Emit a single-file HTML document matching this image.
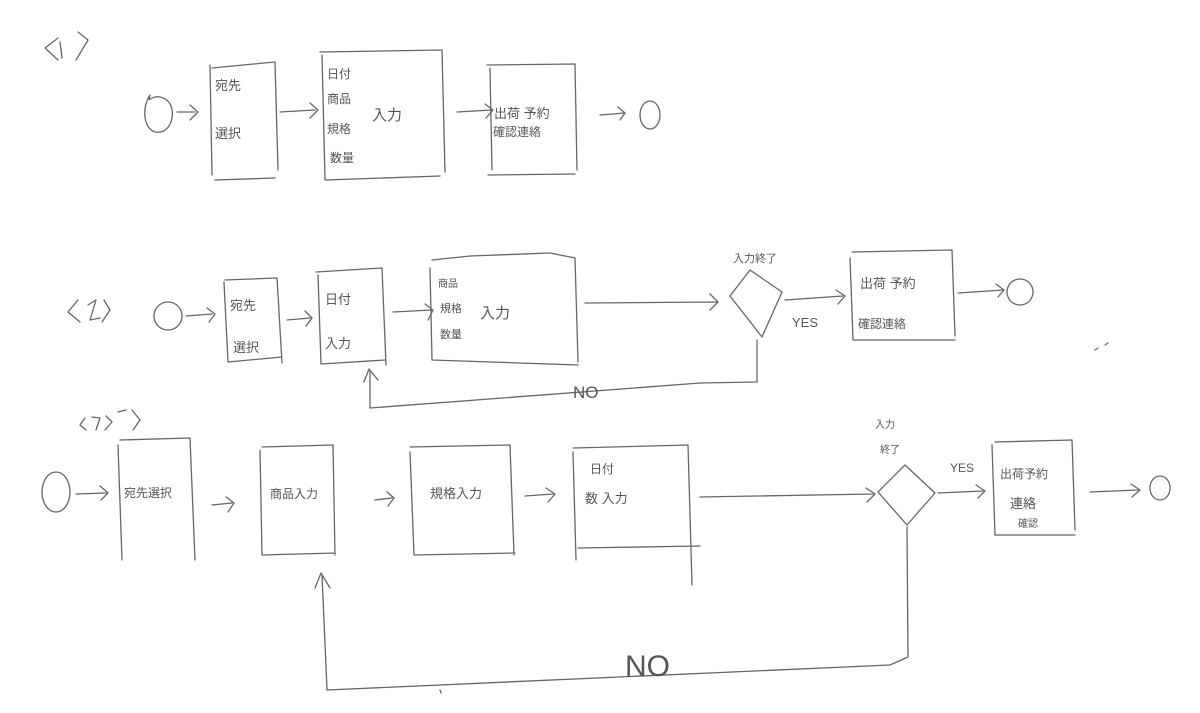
<!DOCTYPE html>
<html><head><meta charset="utf-8"><style>
html,body{margin:0;padding:0;background:#fff;}
svg{display:block}
text{font-family:"Liberation Sans","Noto Sans CJK JP",sans-serif;fill:#555;}
</style></head><body>
<svg width="1200" height="713" viewBox="0 0 1200 713" xmlns="http://www.w3.org/2000/svg">
<g fill="none" stroke="#666" stroke-width="1.3" stroke-linecap="round" stroke-linejoin="round">
<!-- Row 1 -->
<path d="M58,38 L45,48 L58,60 M60,42 L62,58 M78,32 L88,40 L76,60"/>
<path d="M150,95 C140,110 145,135 160,132 C175,130 178,100 160,97 C150,95 148,105 150,95"/>
<path d="M177,112 L195,112 M190,105 L198,112 L190,120"/>
<path d="M212,68 L275,62 L278,170 M210,65 L212,175 M215,180 L275,178"/>
<path d="M280,112 L315,110 M310,103 L318,110 L310,118"/>
<path d="M320,52 L442,50 L445,172 M322,55 L325,180 L440,176"/>
<path d="M457,112 L492,110 M485,104 L493,110 L486,118"/>
<path d="M487,65 L575,64 L577,170 M490,68 L492,170 M488,175 L575,174"/>
<path d="M600,115 L625,113 M618,107 L625,113 L620,120"/>
<ellipse cx="650" cy="115" rx="10" ry="14"/>
<!-- Row 2 -->
<path d="M78,300 L68,312 L80,322 M88,305 L96,300 L90,320 L100,318 M104,300 L110,310 L102,322"/>
<circle cx="168" cy="316" r="14"/>
<path d="M186,316 L212,314 M207,308 L215,314 L209,322"/>
<path d="M225,280 L277,278 L282,363 M224,282 L228,362 L282,357"/>
<path d="M287,320 L310,318 M305,311 L312,318 L306,326"/>
<path d="M316,272 L382,268 L386,365 M318,275 L321,364 L385,360"/>
<path d="M393,312 L432,310 M425,304 L433,310 L428,320"/>
<path d="M432,260 L470,256 L550,253 L575,258 L578,362 M430,268 L432,360 L578,365"/>
<path d="M585,303 L717,302 M710,294 L718,302 L710,310"/>
<path d="M730,296 L750,270 L782,292 L762,337 Z"/>
<path d="M785,300 L843,296 M836,290 L845,296 L838,304"/>
<path d="M852,252 L952,250 L955,336 M850,258 L853,340 L955,340"/>
<path d="M958,293 L1003,290 M996,284 L1004,290 L998,297"/>
<circle cx="1020" cy="292" r="13"/>
<path d="M757,340 L757,382 L700,383 L370,408 L370,370 M364,382 L369,369 L378,380"/>
<path d="M1095,350 L1098,348 M1105,345 L1108,343"/>
<!-- Row 3 -->
<path d="M85,418 L80,425 L86,430 M92,417 L100,418 L96,430 M106,416 L112,422 L105,430 M118,412 L126,410 M132,410 L140,420 L133,430"/>
<ellipse cx="56" cy="492" rx="14" ry="20"/>
<path d="M76,494 L106,493 M100,486 L108,493 L101,500"/>
<path d="M120,440 L190,438 L195,560 M118,445 L122,560"/>
<path d="M212,505 L232,503 M226,497 L234,503 L228,512"/>
<path d="M262,447 L333,445 L335,555 M260,450 L262,555 L335,553"/>
<path d="M375,500 L392,498 M387,492 L394,498 L388,506"/>
<path d="M410,447 L510,445 L514,555 M410,452 L414,555 L515,553"/>
<path d="M525,496 L553,494 M546,488 L555,494 L548,502"/>
<path d="M573,448 L688,445 L692,585 M573,452 L576,560 M578,548 L700,546"/>
<path d="M700,497 L873,494 M866,488 L875,494 L867,502"/>
<path d="M878,492 L905,465 L935,493 L907,525 Z"/>
<path d="M938,493 L983,491 M976,485 L985,491 L978,498"/>
<path d="M995,442 L1072,440 L1075,530 M992,445 L995,535 L1075,535"/>
<path d="M1090,492 L1138,490 M1131,484 L1140,490 L1132,497"/>
<ellipse cx="1160" cy="488" rx="10" ry="12"/>
<path d="M907,527 L908,657 L890,665 L327,690 L322,575 M315,588 L321,573 L330,588"/>
<path d="M440,690 L441,693"/>
</g>
<g font-size="13">
<text x="215" y="90">宛先</text><text x="215" y="138">選択</text>
<text x="327" y="78" font-size="12">日付</text><text x="327" y="103" font-size="12">商品</text><text x="327" y="133" font-size="12">規格</text><text x="330" y="162" font-size="12">数量</text>
<text x="372" y="120" font-size="15">入力</text>
<text x="494" y="118">出荷 予約</text><text x="493" y="136" font-size="12">確認連絡</text>
<text x="230" y="310">宛先</text><text x="233" y="352">選択</text>
<text x="325" y="304">日付</text><text x="325" y="348">入力</text>
<text x="438" y="287" font-size="10">商品</text><text x="440" y="312" font-size="11">規格</text><text x="440" y="338" font-size="11">数量</text>
<text x="480" y="318" font-size="15">入力</text>
<text x="733" y="262" font-size="11">入力終了</text>
<text x="792" y="327" font-size="13">YES</text>
<text x="860" y="288">出荷 予約</text><text x="858" y="328" font-size="12">確認連絡</text>
<text x="573" y="398" font-size="17">NO</text>
<text x="124" y="497" font-size="12">宛先選択</text>
<text x="270" y="498" font-size="12">商品入力</text>
<text x="430" y="498" font-size="13">規格入力</text>
<text x="590" y="473" font-size="12">日付</text><text x="585" y="503" font-size="13">数 入力</text>
<text x="875" y="428" font-size="10">入力</text><text x="880" y="453" font-size="10">終了</text>
<text x="950" y="472" font-size="12">YES</text>
<text x="1000" y="478" font-size="12">出荷予約</text><text x="1010" y="508" font-size="13">連絡</text><text x="1018" y="527" font-size="10">確認</text>
<text x="625" y="676" font-size="30">NO</text>
</g>
</svg>
</body></html>
